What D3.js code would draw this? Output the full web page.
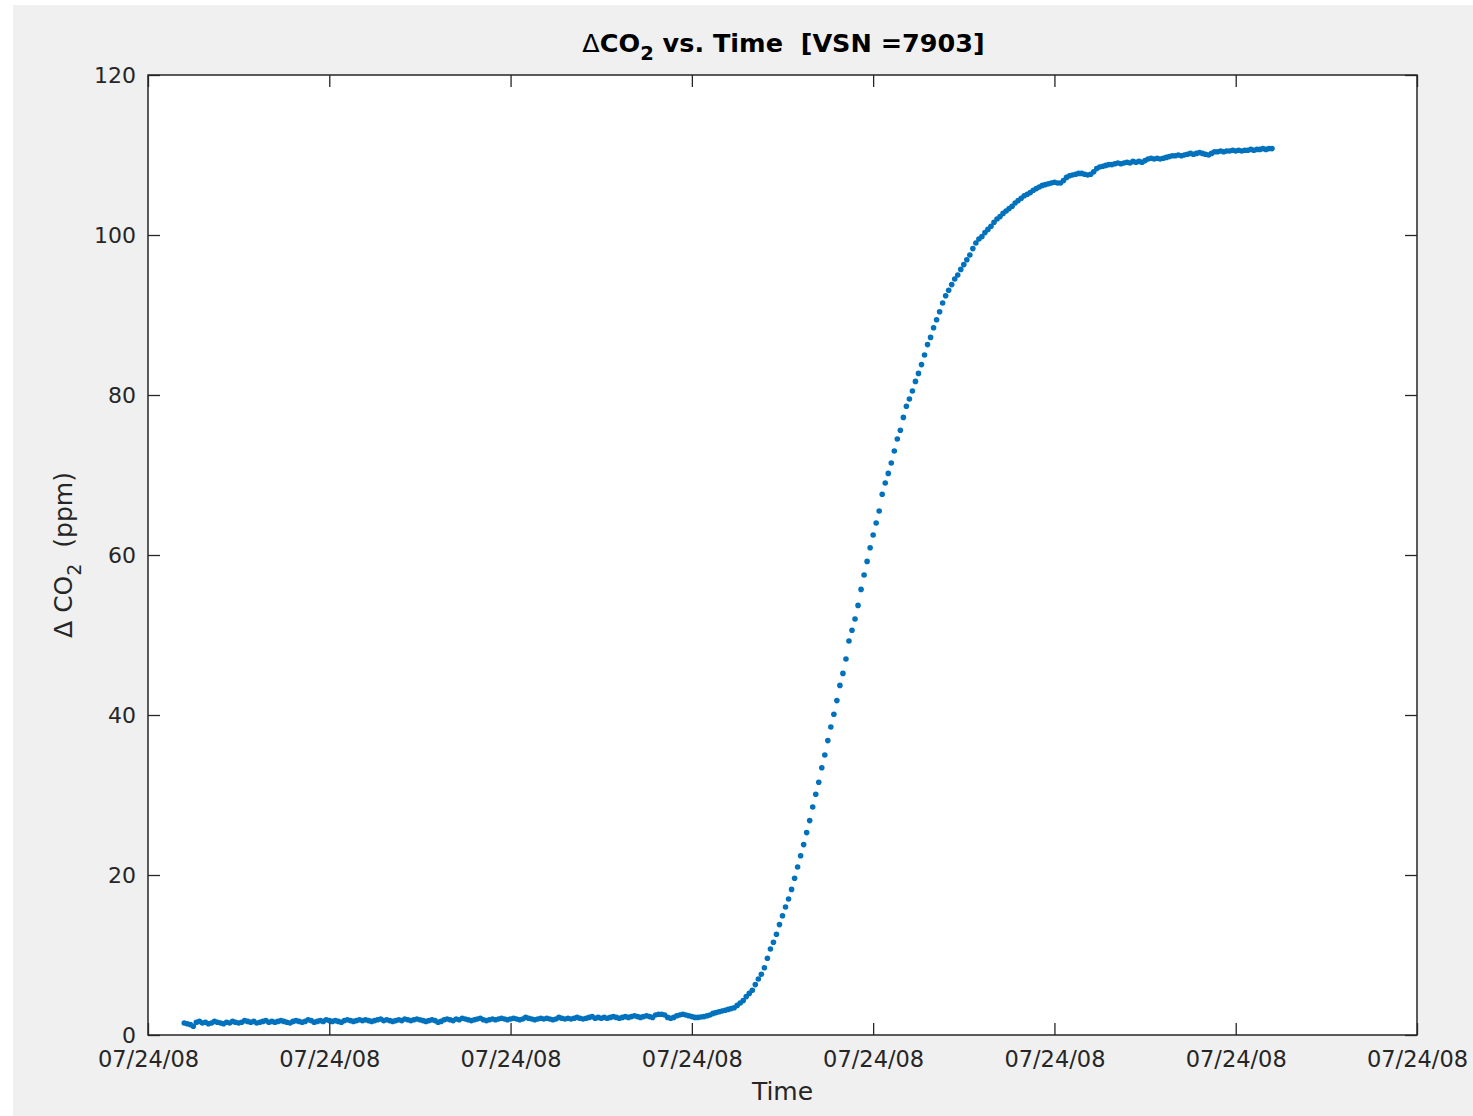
<!DOCTYPE html>
<html>
<head>
<meta charset="utf-8">
<script src="https://cdn.jsdelivr.net/npm/d3@7"></script>
<style>
body { margin: 0; background: #fff; }
text { font-family: "DejaVu Sans", sans-serif; }
</style>
</head>
<body>
<div id="chart"></div>
<script>
// one sample per minute, starting at startTime
let startTime = new Date(2008, 6, 24, 8, 12, 0);
let axisDomain = [new Date(2008, 6, 24, 8, 0, 0), new Date(2008, 6, 24, 15, 0, 0)];
let yTicks = [0, 20, 40, 60, 80, 100, 120];

// flat baseline before the step
let co2Baseline = [
  1.5, 1.4, 1.3, 1.1, 1.6, 1.7, 1.5, 1.6, 1.4, 1.5,
  1.7, 1.6, 1.5, 1.4, 1.6, 1.5, 1.7, 1.6, 1.5, 1.6,
  1.8, 1.7, 1.6, 1.7, 1.5, 1.6, 1.7, 1.8, 1.6, 1.7,
  1.6, 1.7, 1.8, 1.7, 1.6, 1.5, 1.7, 1.8, 1.7, 1.6,
  1.7, 1.9, 1.8, 1.6, 1.7, 1.8, 1.7, 1.9, 1.8, 1.7,
  1.8, 1.7, 1.6, 1.8, 1.9, 1.8, 1.7, 1.8, 1.9, 1.8,
  1.9, 1.8, 1.7, 1.8, 1.9, 2.0, 1.8, 1.9, 1.8, 1.7,
  1.8, 1.9, 1.8, 2.0, 1.9, 1.8, 1.9, 2.0, 1.9, 1.8,
  1.7, 1.8, 1.9, 1.8, 1.6, 1.7, 1.9, 2.0, 1.9, 1.8,
  2.0, 1.9, 2.1, 2.0, 1.9, 1.8, 1.9, 2.0, 2.1, 1.9,
  1.8, 1.9, 2.0, 1.9, 2.0, 2.1, 2.0, 1.9, 2.0, 2.1,
  2.0, 1.9, 2.0, 2.2, 2.1, 2.0, 1.9, 2.0, 2.1, 2.0,
  2.1, 2.0, 1.9, 2.0, 2.2, 2.1, 2.0, 2.1, 2.0, 2.1,
  2.2, 2.1, 2.0, 2.1, 2.2, 2.3, 2.1, 2.2, 2.1, 2.2,
  2.1, 2.2, 2.3, 2.2, 2.1, 2.2, 2.3, 2.2, 2.3, 2.4,
  2.3, 2.2, 2.3, 2.4, 2.3, 2.2, 2.5, 2.6, 2.6, 2.5,
  2.2, 2.1, 2.2, 2.4, 2.5, 2.6, 2.5, 2.4, 2.3, 2.2
];

// the rise
let co2Rise = [
  2.2, 2.25, 2.3, 2.4, 2.5, 2.7, 2.8, 2.9, 3.0, 3.1,
  3.2, 3.3, 3.4, 3.7, 4.0, 4.3, 4.8, 5.2, 5.6, 6.3,
  7.0, 7.6, 8.4, 9.6, 10.75, 11.6, 12.6, 13.8, 14.9, 16.0,
  17.0, 18.2, 19.6, 21.0, 22.4, 23.8, 25.3, 26.8, 28.5, 30.1,
  31.6, 33.4, 35.0, 36.8, 38.5, 40.1, 41.8, 43.7, 45.2, 47.0,
  49.25, 50.6, 52.0, 53.7, 55.7, 57.5, 59.2, 60.9, 62.5, 64.0,
  65.5, 67.6, 69.0, 70.2, 71.5, 73.0, 74.5, 75.6, 77.2, 78.6,
  79.5, 80.5, 81.7, 82.7, 83.8, 85.0, 86.3, 87.2, 88.4, 89.4,
  90.4, 91.5, 92.4, 93.1, 93.8, 94.5, 95.0, 95.7, 96.3, 96.9,
  97.5
];

// levelling off
let co2Plateau = [
  98.3, 99.0, 99.5, 99.8, 100.3, 100.7, 101.1, 101.6, 102.0, 102.3,
  102.7, 103.0, 103.3, 103.6, 104.0, 104.3, 104.6, 104.9, 105.1, 105.3,
  105.6, 105.8, 106.0, 106.2, 106.3, 106.4, 106.5, 106.6, 106.5, 106.5,
  106.8, 107.2, 107.4, 107.5, 107.6, 107.7, 107.7, 107.6, 107.5, 107.6,
  107.9, 108.3, 108.5, 108.6, 108.7, 108.8, 108.8, 108.9, 109.0, 108.9,
  109.0, 109.1, 109.0, 109.2, 109.1, 109.2, 109.1, 109.3, 109.5, 109.6,
  109.5, 109.6, 109.5, 109.6, 109.7, 109.8, 109.9, 109.9, 110.0, 109.9,
  110.0, 110.1, 110.2, 110.1, 110.2, 110.3, 110.2, 110.1, 110.0, 110.2,
  110.4, 110.4, 110.5, 110.4, 110.5, 110.5, 110.6, 110.5, 110.6, 110.5,
  110.6, 110.6, 110.7, 110.6, 110.7, 110.7, 110.8, 110.7, 110.8, 110.8
];

let values = co2Baseline.concat(co2Rise, co2Plateau);
let data = values.map((v, i) => ({ t: d3.timeMinute.offset(startTime, i), v: v }));

let width = 1473, height = 1116;
let plotLeft = 148, plotRight = 1417, plotTop = 75, plotBottom = 1035;
let axisColor = "#262626";

let svg = d3.select("#chart").append("svg")
  .attr("width", width)
  .attr("height", height)
  .style("display", "block");

// figure background
svg.append("rect")
  .attr("x", 13).attr("y", 5)
  .attr("width", width - 13).attr("height", height - 5)
  .attr("fill", "#f0f0f0");

svg.append("rect")
  .attr("x", plotLeft).attr("y", plotTop)
  .attr("width", plotRight - plotLeft).attr("height", plotBottom - plotTop)
  .attr("fill", "#fff");

let x = d3.scaleTime().domain(axisDomain).range([plotLeft, plotRight]);
let y = d3.scaleLinear().domain([0, 120]).range([plotBottom, plotTop]);

let fmt = d3.timeFormat("%m/%d/%y");
let xTicks = d3.timeHour.range(axisDomain[0], d3.timeMinute.offset(axisDomain[1], 1));

// points
svg.append("g")
  .selectAll("circle")
  .data(data)
  .enter()
  .append("circle")
  .attr("cx", d => x(d.t))
  .attr("cy", d => y(d.v))
  .attr("r", 2.8)
  .attr("fill", "#0072bd");

// axes, MATLAB style box with inward ticks
let xAxis = svg.append("g")
  .attr("transform", `translate(0,${plotBottom})`)
  .call(d3.axisBottom(x).tickValues(xTicks).tickFormat(fmt).tickSizeInner(-12).tickSizeOuter(0).tickPadding(16));

let xAxisTop = svg.append("g")
  .attr("transform", `translate(0,${plotTop})`)
  .call(d3.axisTop(x).tickValues(xTicks).tickFormat("").tickSizeInner(-12).tickSizeOuter(0));

let yAxis = svg.append("g")
  .attr("transform", `translate(${plotLeft},0)`)
  .call(d3.axisLeft(y).tickValues(yTicks).tickSizeInner(-12).tickSizeOuter(0).tickPadding(12));

let yAxisRight = svg.append("g")
  .attr("transform", `translate(${plotRight},0)`)
  .call(d3.axisRight(y).tickValues(yTicks).tickFormat("").tickSizeInner(-12).tickSizeOuter(0));

[xAxis, xAxisTop, yAxis, yAxisRight].forEach(g => {
  g.select(".domain").remove();
  g.selectAll("line").attr("stroke", axisColor).attr("stroke-width", 1.3);
  g.selectAll("text")
    .attr("fill", axisColor)
    .style("font-family", "'DejaVu Sans', sans-serif");
});
xAxis.selectAll("text").style("font-size", "22.5px");
yAxis.selectAll("text").style("font-size", "22px");

svg.append("rect")
  .attr("x", plotLeft).attr("y", plotTop)
  .attr("width", plotRight - plotLeft).attr("height", plotBottom - plotTop)
  .attr("fill", "none")
  .attr("stroke", axisColor)
  .attr("stroke-width", 1.5);

// title
let title = svg.append("text")
  .attr("x", (plotLeft + plotRight) / 2 + 1)
  .attr("y", 52)
  .attr("text-anchor", "middle")
  .style("font-size", "25.5px")
  .style("font-weight", "bold")
  .style("white-space", "pre")
  .attr("fill", "#000");
title.append("tspan").style("font-weight", "normal").text("\u0394");
title.append("tspan").text("CO");
title.append("tspan").attr("dy", 8).style("font-size", "19.5px").text("2");
title.append("tspan").attr("dy", -8).text(" vs. Time  [VSN =7903]");

// x label
svg.append("text")
  .attr("x", (plotLeft + plotRight) / 2)
  .attr("y", 1100)
  .attr("text-anchor", "middle")
  .attr("fill", axisColor)
  .style("font-size", "25px")
  .text("Time");

// y label
let ylab = svg.append("text")
  .attr("transform", `translate(72,${(plotTop + plotBottom) / 2}) rotate(-90)`)
  .attr("text-anchor", "middle")
  .attr("fill", axisColor)
  .style("font-size", "25px")
  .style("white-space", "pre");
ylab.append("tspan").text("\u0394 CO");
ylab.append("tspan").attr("dy", 9).style("font-size", "19px").text("2");
ylab.append("tspan").attr("dy", -9).text("  (ppm)");
</script>
</body>
</html>
